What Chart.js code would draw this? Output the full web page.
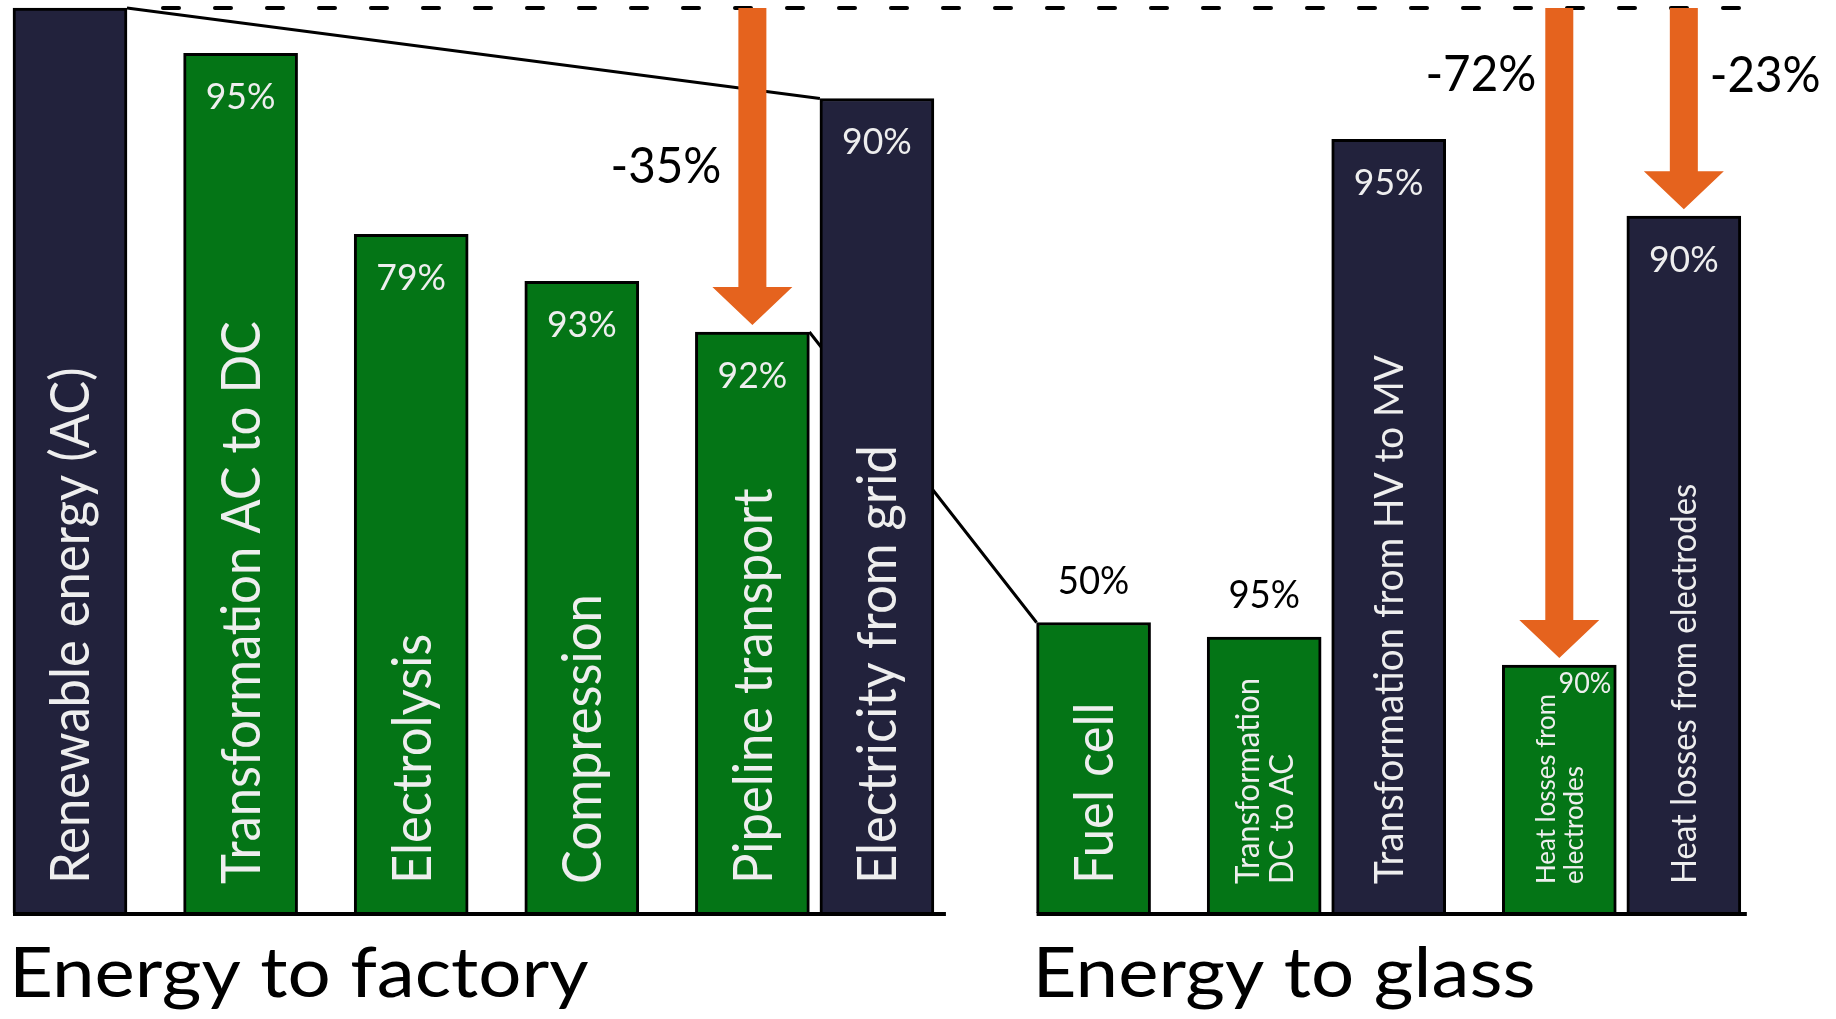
<!DOCTYPE html>
<html>
<head>
<meta charset="utf-8">
<title>Energy to factory / Energy to glass</title>
<script src="https://cdn.jsdelivr.net/npm/chart.js"></script>
<style>
  html, body { margin: 0; padding: 0; background: #fff; overflow: hidden; }
</style>
</head>
<body>
<canvas id="chain" width="1836" height="1019"></canvas>
<script>
// energy chain (share of the renewable energy left after each step)
const steps = ['Renewable energy (AC)', 'Transformation AC to DC', 'Electrolysis', 'Compression',
  'Pipeline transport', 'Electricity from grid', 'Fuel cell', 'Transformation\nDC to AC',
  'Transformation from HV to MV', 'Heat losses from\nelectrodes', 'Heat losses from electrodes'];
const remaining = [100, 95, 75, 69.8, 64.2, 90, 32.1, 30.5, 85.5, 27.4, 77];
const efficiency = ['', '95%', '79%', '93%', '92%', '90%', '50%', '95%', '95%', '90%', '90%'];
const route = ['grid', 'h2', 'h2', 'h2', 'h2', 'grid', 'h2', 'h2', 'grid', 'h2', 'grid'];
const groupTitles = ['Energy to factory', 'Energy to glass'];
const groupFirst = [0, 6];
const lossBars = [4, 9, 10];
const lossText = ['-35%', '-72%', '-23%'];

// layout (not data)
const slots = [0, 1, 2, 3, 4, 4.73, 6, 7, 7.73, 8.73, 9.46];
const labelSize = [54, 54, 54, 54, 54, 54, 54, 33, 41, 27.5, 35];
const pctPlace = ['in', 'in', 'in', 'in', 'in', 'in', 'above', 'above', 'in', 'corner', 'in'];
const lossSide = ['left', 'left', 'right'];
const lossGap = [17, 9, 12];
const lossAt = [82.4, 92.6, 92.5];
const colors = { h2: '#047516', grid: '#22223c', arrow: '#e5631e', text: '#eeeeee' };

function txt(ctx, s, x, y, font, color, align, base, sx) {
  ctx.save();
  ctx.font = font;
  ctx.fillStyle = color;
  ctx.textAlign = align;
  ctx.textBaseline = base;
  ctx.translate(x, y);
  ctx.scale(sx || 1, 1);
  ctx.fillText(s, 0, 0);
  ctx.restore();
}

const chainPlugin = {
  id: 'chain',
  beforeDatasetsDraw(chart) {
    const ctx = chart.ctx, bars = chart.getDatasetMeta(0).data;
    const top = chart.scales.y.getPixelForValue(100);
    const L = i => bars[i].x - bars[i].width / 2, R = i => bars[i].x + bars[i].width / 2;
    ctx.save();
    ctx.strokeStyle = '#000';
    ctx.lineWidth = 4;
    ctx.lineCap = 'round';
    ctx.setLineDash([16, 36]);
    ctx.beginPath();
    ctx.moveTo(R(0) + 36, top);
    ctx.lineTo(R(10), top);
    ctx.stroke();
    ctx.setLineDash([]);
    ctx.lineCap = 'butt';
    ctx.lineWidth = 3;
    ctx.beginPath();
    ctx.moveTo(R(0), top);
    ctx.lineTo(L(5), bars[5].y);
    ctx.moveTo(R(4), bars[4].y);
    ctx.lineTo(L(6), bars[6].y);
    ctx.stroke();
    ctx.restore();
  },
  afterDatasetsDraw(chart) {
    const ctx = chart.ctx, bars = chart.getDatasetMeta(0).data, ys = chart.scales.y;
    const top = ys.getPixelForValue(100), base = ys.getPixelForValue(0);
    const L = i => bars[i].x - bars[i].width / 2, R = i => bars[i].x + bars[i].width / 2;

    // axis lines under the two groups
    ctx.save();
    ctx.strokeStyle = '#000';
    ctx.lineWidth = 4;
    ctx.beginPath();
    ctx.moveTo(L(0), base + 1); ctx.lineTo(R(5) + 12, base + 1);
    ctx.moveTo(L(6), base + 1); ctx.lineTo(R(10) + 6, base + 1);
    ctx.stroke();
    ctx.restore();

    // step names, rotated inside the bars
    bars.forEach((b, i) => {
      const lines = steps[i].split('\n'), size = labelSize[i];
      const gap = size * 1.02, cap = size * 0.72;
      ctx.save();
      ctx.translate(b.x, base - 29);
      ctx.rotate(-Math.PI / 2);
      ctx.scale(0.94, 1);
      ctx.font = size + 'px Lato';
      ctx.fillStyle = colors.text;
      ctx.textAlign = 'left';
      ctx.textBaseline = 'alphabetic';
      lines.forEach((s, k) => {
        ctx.fillText(s, 0, -(lines.length - 1) * gap / 2 + k * gap + cap / 2);
      });
      ctx.restore();
    });

    // efficiency of each step
    bars.forEach((b, i) => {
      if (!efficiency[i]) return;
      if (pctPlace[i] === 'in') txt(ctx, efficiency[i], b.x, b.y + 44, '37px Lato', colors.text, 'center', 'middle', 0.96);
      else if (pctPlace[i] === 'above') txt(ctx, efficiency[i], b.x, b.y - 41, '38px Lato', '#000', 'center', 'middle', 0.96);
      else txt(ctx, efficiency[i], R(i) - 5, b.y + 19, '28px Lato', colors.text, 'right', 'middle', 0.96);
    });

    // loss arrows
    lossBars.forEach((i, k) => {
      const b = bars[i], x = b.x, tip = b.y - 7, head = tip - 38;
      ctx.save();
      ctx.fillStyle = colors.arrow;
      ctx.beginPath();
      ctx.moveTo(x - 14, top);
      ctx.lineTo(x + 14, top);
      ctx.lineTo(x + 14, head);
      ctx.lineTo(x + 40, head);
      ctx.lineTo(x, tip);
      ctx.lineTo(x - 40, head);
      ctx.lineTo(x - 14, head);
      ctx.closePath();
      ctx.fill();
      ctx.restore();
      const ty = ys.getPixelForValue(lossAt[k]);
      if (lossSide[k] === 'left') txt(ctx, lossText[k], x - 14 - lossGap[k], ty, '50px Lato', '#000', 'right', 'middle', 0.95);
      else txt(ctx, lossText[k], x + 14 + lossGap[k], ty, '50px Lato', '#000', 'left', 'middle', 0.95);
    });

    // group titles
    groupFirst.forEach((i, k) => {
      txt(ctx, groupTitles[k], L(i) - 4, ys.getPixelForValue(-9.3), '70px Lato', '#000', 'left', 'alphabetic', 1.09);
    });
  }
};

function draw() {
  new Chart(document.getElementById('chain'), {
    type: 'bar',
    data: {
      datasets: [{
        label: 'Energy left (%)',
        data: slots.map((x, i) => ({ x: x, y: remaining[i] })),
        backgroundColor: route.map(r => colors[r]),
        borderColor: '#000',
        borderWidth: 3,
        borderSkipped: 'start',
        barThickness: 114
      }]
    },
    options: {
      responsive: false,
      animation: false,
      layout: { padding: 0 },
      plugins: { legend: { display: false }, tooltip: { enabled: false } },
      scales: {
        x: { type: 'linear', offset: false, min: -0.4103, max: 10.352, display: false },
        y: { min: -11.713, max: 100.884, display: false }
      }
    },
    plugins: [chainPlugin]
  });
}

document.fonts.load('40px Lato').then(draw, draw);
</script>
</body>
</html>
